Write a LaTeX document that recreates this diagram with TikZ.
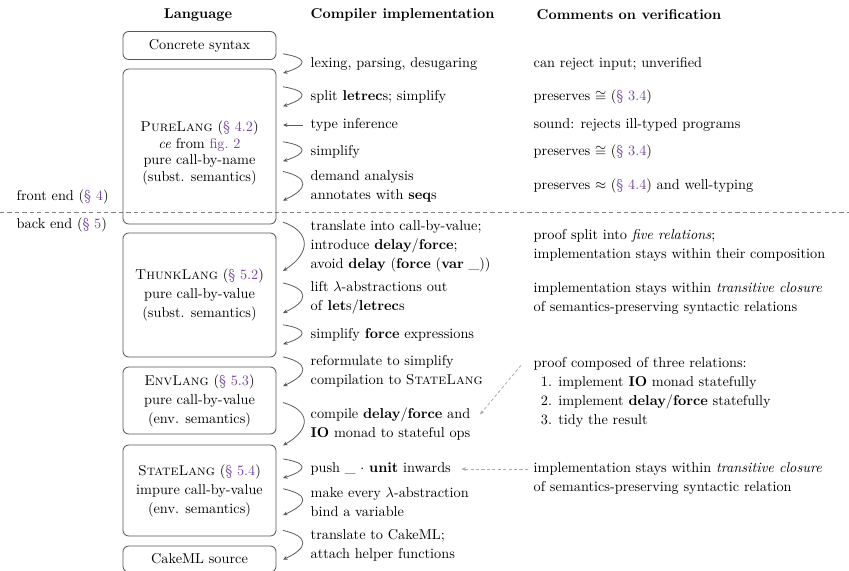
\documentclass[tikz,border=0pt]{standalone}
\usepackage{amsmath}
\usepackage{amssymb}
\usepackage{tikz}
\usetikzlibrary{arrows.meta}
\usetikzlibrary{calc}

\definecolor{linkpurple}{RGB}{118,70,160}
\definecolor{boxgray}{RGB}{85,85,85}
\definecolor{arrowgray}{RGB}{90,90,90}
\definecolor{notegray}{RGB}{170,170,170}
\newcommand{\lnk}[1]{\textcolor{linkpurple}{#1}}
\newcommand{\kw}[1]{\textbf{#1}}

\tikzset{
  langbox/.style={draw=boxgray, line width=0.6pt, rounded corners=4pt, align=center,
    minimum width=107.1pt, inner sep=0pt, font=\fontsize{10}{13.3}\selectfont},
  langtext/.style={align=center, inner sep=0pt, font=\fontsize{10}{11.8}\selectfont},
  stepnote/.style={anchor=west, align=left, inner sep=1pt, font=\fontsize{10}{13.3}\selectfont},
  headnote/.style={inner sep=1pt, font=\fontsize{10}{12}\selectfont\bfseries},
  steparrow/.style={draw=arrowgray, line width=0.55pt, -{Stealth[length=3.2pt,width=2.8pt]}},
  notearrow/.style={draw=notegray, line width=0.55pt, dash pattern=on 2.2pt off 1.6pt,
    -{Stealth[length=3pt,width=2.6pt]}},
}

\begin{document}
\begin{tikzpicture}[x=0.7pt,y=0.7pt,yscale=-1,xscale=1]
\useasboundingbox (0,0) rectangle (849,571);

% Headings
\node [headnote] (hlang) at (198,15) {Language};
\node [headnote, anchor=west] (hcomp) at (309,15) {Compiler implementation};
\node [headnote, anchor=west] (hver) at (535,15) {Comments on verification};

% Front end / back end
\draw [draw=boxgray!75, line width=0.5pt, dash pattern=on 3pt off 2.2pt] (0,212) -- (849,212);
\node [stepnote] (front) at (15,197) {front end (\lnk{\S~4})};
\node [stepnote] (back) at (15,225) {back end (\lnk{\S~5})};

% Languages
\node [langbox, minimum height=19.6pt] (concrete) at (199.5,45.5) {Concrete syntax};
\node [langbox, minimum height=108.5pt] (pure) at (199.5,146.5) {};
\node [langtext] (puretext) at (199.5,153) {\textsc{PureLang} (\lnk{\S~4.2})\\ \emph{ce} from \lnk{fig.~2}\\ pure call-by-name\\ (subst. semantics)};
\node [langbox, minimum height=86.8pt] (thunk) at (199.5,295) {\textsc{ThunkLang} (\lnk{\S~5.2})\\ pure call-by-value\\ (subst. semantics)};
\node [langbox, minimum height=46.9pt] (env) at (199.5,400.5) {\textsc{EnvLang} (\lnk{\S~5.3})\\ pure call-by-value\\ (env. semantics)};
\node [langbox, minimum height=63.7pt] (state) at (199.5,490.5) {\textsc{StateLang} (\lnk{\S~5.4})\\ impure call-by-value\\ (env. semantics)};
\node [langbox, minimum height=18.2pt] (cake) at (199.5,559) {CakeML source};

% Compiler steps
\node [stepnote] (lex) at (309,64) {lexing, parsing, desugaring};
\node [stepnote] (split) at (309,97) {split \kw{letrec}s; simplify};
\node [stepnote] (typ) at (309,125) {type inference};
\node [stepnote] (simp) at (309,152) {simplify};
\node [stepnote] (dem) at (309,186) {demand analysis\\ annotates with \kw{seq}s};
\node [stepnote] (cbv) at (309,246.5) {translate into call-by-value;\\ introduce \kw{delay}/\kw{force};\\ avoid \kw{delay} (\kw{force} (\kw{var} \_))};
\node [stepnote] (lift) at (309,298) {lift $\lambda$-abstractions out\\ of \kw{let}s/\kw{letrec}s};
\node [stepnote] (force) at (309,335) {simplify \kw{force} expressions};
\node [stepnote] (reform) at (309,371.5) {reformulate to simplify\\ compilation to \textsc{StateLang}};
\node [stepnote] (compile) at (309,424.5) {compile \kw{delay}/\kw{force} and\\ \kw{IO} monad to stateful ops};
\node [stepnote] (push) at (309,469) {push \_ $\cdot$ \kw{unit} inwards};
\node [stepnote] (lambda) at (309,502) {make every $\lambda$-abstraction\\ bind a variable};
\node [stepnote] (tocake) at (309,545) {translate to CakeML;\\ attach helper functions};

% Comments
\node [stepnote] (crej) at (532,64) {can reject input; unverified};
\node [stepnote] (congone) at (532,97) {preserves $\cong$ (\lnk{\S~3.4})};
\node [stepnote] (sound) at (532,125) {sound: rejects ill-typed programs};
\node [stepnote] (congtwo) at (532,152) {preserves $\cong$ (\lnk{\S~3.4})};
\node [stepnote] (approx) at (532,186) {preserves $\approx$ (\lnk{\S~4.4}) and well-typing};
\node [stepnote] (five) at (532,245.5) {proof split into \emph{five relations};\\ implementation stays within their composition};
\node [stepnote] (closeone) at (532,299) {implementation stays within \emph{transitive closure}\\ of semantics-preserving syntactic relations};
\node [stepnote] (proofthree) at (532,392) {proof composed of three relations:\\ \hspace*{5pt}1. implement \kw{IO} monad statefully\\ \hspace*{5pt}2. implement \kw{delay}/\kw{force} statefully\\ \hspace*{5pt}3. tidy the result};
\node [stepnote] (closetwo) at (532,478.5) {implementation stays within \emph{transitive closure}\\ of semantics-preserving syntactic relation};

% Connection
\draw [steparrow] ($(lex.north west)+(-26,-2)$) .. controls +(25,4) and +(25,-8) .. ($(lex.south west)+(-26,1)$);
% Connection
\draw [steparrow] ($(split.north west)+(-26,-2)$) .. controls +(25,4) and +(25,-8) .. ($(split.south west)+(-26,1)$);
% Connection
\draw [steparrow] ($(typ.west)+(-6,0)$) -- ($(typ.west)+(-26,0)$);
% Connection
\draw [steparrow] ($(simp.north west)+(-26,-2)$) .. controls +(25,4) and +(25,-8) .. ($(simp.south west)+(-26,1)$);
% Connection
\draw [steparrow] ($(dem.north west)+(-26,3)$) .. controls +(26,6) and +(26,-12) .. ($(dem.south west)+(-26,-3)$);
% Connection
\draw [steparrow] ($(cbv.north west)+(-26,3)$) .. controls +(28,10) and +(28,-18) .. ($(cbv.south west)+(-26,-3)$);
% Connection
\draw [steparrow] ($(lift.north west)+(-26,3)$) .. controls +(26,6) and +(26,-12) .. ($(lift.south west)+(-26,-3)$);
% Connection
\draw [steparrow] ($(force.north west)+(-26,-2)$) .. controls +(25,4) and +(25,-8) .. ($(force.south west)+(-26,1)$);
% Connection
\draw [steparrow] ($(reform.north west)+(-26,3)$) .. controls +(26,6) and +(26,-12) .. ($(reform.south west)+(-26,-3)$);
% Connection
\draw [steparrow] ($(compile.north west)+(-26,-4)$) .. controls +(28,8) and +(28,-16) .. ($(compile.south west)+(-26,3)$);
% Connection
\draw [steparrow] ($(push.north west)+(-26,-2)$) .. controls +(25,4) and +(25,-8) .. ($(push.south west)+(-26,1)$);
% Connection
\draw [steparrow] ($(lambda.north west)+(-26,3)$) .. controls +(26,6) and +(26,-12) .. ($(lambda.south west)+(-26,-3)$);
% Connection
\draw [steparrow] ($(tocake.north west)+(-26,3)$) .. controls +(26,6) and +(26,-12) .. ($(tocake.south west)+(-26,-3)$);

% Note connections
\draw [notearrow] ($(proofthree.north west)+(-11,10)$) -- ($(compile.east)+(8,-10)$);
\draw [notearrow] ($(push.east -| closetwo.west)+(-4,0)$) -- ($(push.east)+(9,0)$);

\end{tikzpicture}
\end{document}
